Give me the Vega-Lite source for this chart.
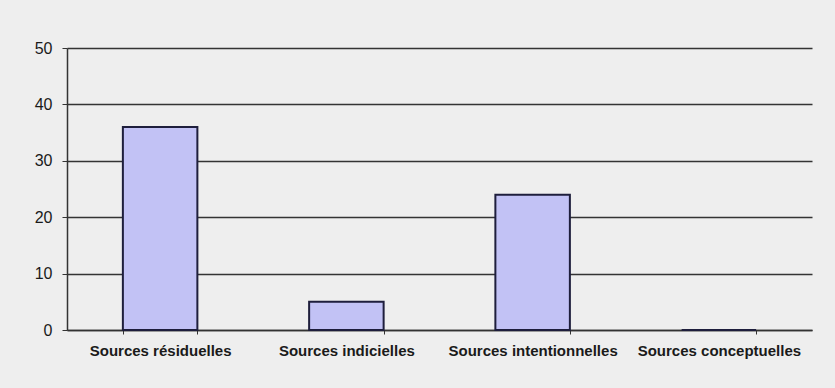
{
  "$schema": "https://vega.github.io/schema/vega-lite/v6.json",
  "autosize": {"type": "none"},
  "width": 745,
  "height": 282,
  "padding": {"left": 67, "top": 48, "right": 23, "bottom": 58},
  "background": "#EEEEEE",
  "data": {"values": [
    {"categorie": "Sources résiduelles", "valeur": 36},
    {"categorie": "Sources indicielles", "valeur": 5},
    {"categorie": "Sources intentionnelles", "valeur": 24},
    {"categorie": "Sources conceptuelles", "valeur": 0}
  ]},
  "mark": {"type": "bar", "fill": "#C2C2F5", "stroke": "#1E1E3C", "strokeWidth": 2},
  "encoding": {
    "x": {
      "field": "categorie", "type": "nominal", "sort": null,
      "scale": {"paddingInner": 0.6, "paddingOuter": 0.3},
      "axis": {
        "title": null, "labelAngle": 0, "tickBand": "extent",
        "domainColor": "#333333", "domainWidth": 1.5,
        "tickColor": "#333333", "tickSize": 4, "tickWidth": 1,
        "labelFont": "Liberation Sans", "labelFontSize": 15, "labelFontWeight": "bold",
        "labelColor": "#1A1A1A", "labelPadding": 9
      }
    },
    "y": {
      "field": "valeur", "type": "quantitative",
      "scale": {"domain": [0, 50], "nice": false},
      "axis": {
        "title": null, "values": [0, 10, 20, 30, 40, 50],
        "grid": true, "gridColor": "#333333", "gridWidth": 1.3,
        "domainColor": "#333333", "domainWidth": 1.5,
        "tickColor": "#333333", "tickSize": 5,
        "labelFont": "Liberation Sans", "labelFontSize": 16,
        "labelColor": "#1A1A1A", "labelPadding": 10
      }
    }
  },
  "config": {"view": {"stroke": null}}
}
